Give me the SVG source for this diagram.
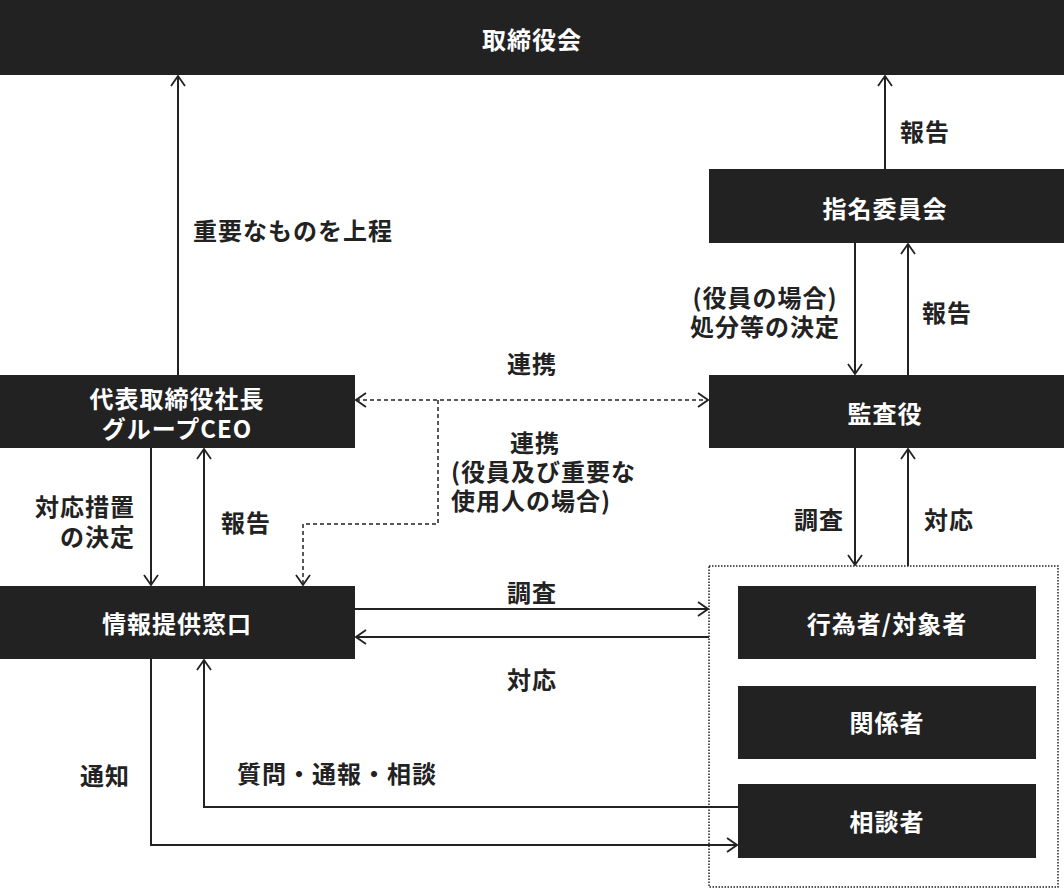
<svg xmlns="http://www.w3.org/2000/svg" width="1064" height="888" viewBox="0 0 1064 888">
<defs>
<style>
.box{fill:#222222}
.bt{fill:#ffffff;font-family:"Noto Sans CJK JP","Noto Sans",sans-serif;font-size:24px;font-weight:700;letter-spacing:1px;text-anchor:middle;dominant-baseline:central}
.lb{fill:#222222;font-family:"Noto Sans CJK JP","Noto Sans",sans-serif;font-size:24px;font-weight:700;letter-spacing:1px;text-anchor:middle;dominant-baseline:central}
.ln{fill:none;stroke:#222222;stroke-width:2}
.dash{fill:none;stroke:#222222;stroke-width:1.5;stroke-dasharray:4 3}
.dot{fill:none;stroke:#222222;stroke-width:1.5;stroke-dasharray:1.5 1.5}
</style>
<marker id="ah" viewBox="0 0 12 16" refX="11" refY="8" markerWidth="12" markerHeight="16" markerUnits="userSpaceOnUse" orient="auto-start-reverse">
<path d="M1,1 L11,8 L1,15" fill="none" stroke="#222222" stroke-width="1.8"/>
</marker>
</defs>
<rect width="1064" height="888" fill="#ffffff"/>

<g id="connectors">
<line class="ln" x1="178" y1="375" x2="178" y2="76" marker-end="url(#ah)"/>
<line class="ln" x1="885" y1="169" x2="885" y2="76" marker-end="url(#ah)"/>
<line class="ln" x1="855" y1="243" x2="855" y2="374" marker-end="url(#ah)"/>
<line class="ln" x1="908" y1="375" x2="908" y2="244" marker-end="url(#ah)"/>
<line class="dash" x1="356" y1="400" x2="708" y2="400" marker-start="url(#ah)" marker-end="url(#ah)"/>
<polyline class="dash" points="438,400 438,524 303,524 303,585" marker-end="url(#ah)"/>
<line class="ln" x1="151" y1="448" x2="151" y2="585" marker-end="url(#ah)"/>
<line class="ln" x1="204" y1="586" x2="204" y2="449" marker-end="url(#ah)"/>
<line class="ln" x1="855" y1="448" x2="855" y2="565" marker-end="url(#ah)"/>
<line class="ln" x1="908" y1="566" x2="908" y2="449" marker-end="url(#ah)"/>
<line class="ln" x1="355" y1="609" x2="708" y2="609" marker-end="url(#ah)"/>
<line class="ln" x1="709" y1="637" x2="356" y2="637" marker-end="url(#ah)"/>
<polyline class="ln" points="151,659 151,845 737,845" marker-end="url(#ah)"/>
<polyline class="ln" points="738,807 204,807 204,660" marker-end="url(#ah)"/>
</g>

<g id="board"><rect class="box" x="0" y="0" width="1064" height="75"/><text class="bt" x="532" y="38">取締役会</text></g>
<g id="nomination"><rect class="box" x="709" y="169" width="355" height="74"/><text class="bt" x="885" y="207">指名委員会</text></g>
<g id="auditor"><rect class="box" x="709" y="375" width="355" height="73"/><text class="bt" x="885" y="412">監査役</text></g>
<g id="ceo"><rect class="box" x="0" y="375" width="355" height="73"/><text class="bt" x="177" y="397"><tspan x="177">代表取締役社長</tspan><tspan x="177" dy="30">グループCEO</tspan></text></g>
<g id="window"><rect class="box" x="0" y="586" width="355" height="73"/><text class="bt" x="177" y="622">情報提供窓口</text></g>
<g id="group"><rect class="dot" x="709" y="566" width="349" height="321"/></g>
<g id="actor"><rect class="box" x="738" y="586" width="298" height="73"/><text class="bt" x="887" y="622">行為者/対象者</text></g>
<g id="related"><rect class="box" x="738" y="686" width="298" height="73"/><text class="bt" x="887" y="721">関係者</text></g>
<g id="consultant"><rect class="box" x="738" y="784" width="298" height="74"/><text class="bt" x="887" y="820">相談者</text></g>

<g id="labels">
<text class="lb" x="293" y="229">重要なものを上程</text>
<text class="lb" x="925" y="130">報告</text>
<text class="lb" x="765" y="296"><tspan x="765">(役員の場合)</tspan><tspan x="765" dy="29">処分等の決定</tspan></text>
<text class="lb" x="947" y="311">報告</text>
<text class="lb" x="532" y="362">連携</text>
<text class="lb" x="451" y="441" style="text-anchor:start"><tspan x="510">連携</tspan><tspan x="451" dy="29">(役員及び重要な</tspan><tspan x="451" dy="29">使用人の場合)</tspan></text>
<text class="lb" x="135" y="505" style="text-anchor:end"><tspan x="135">対応措置</tspan><tspan x="135" dy="30">の決定</tspan></text>
<text class="lb" x="246" y="521">報告</text>
<text class="lb" x="532" y="591">調査</text>
<text class="lb" x="532" y="678">対応</text>
<text class="lb" x="819" y="518">調査</text>
<text class="lb" x="949" y="518">対応</text>
<text class="lb" x="105" y="774">通知</text>
<text class="lb" x="337" y="772">質問・通報・相談</text>
</g>
</svg>
